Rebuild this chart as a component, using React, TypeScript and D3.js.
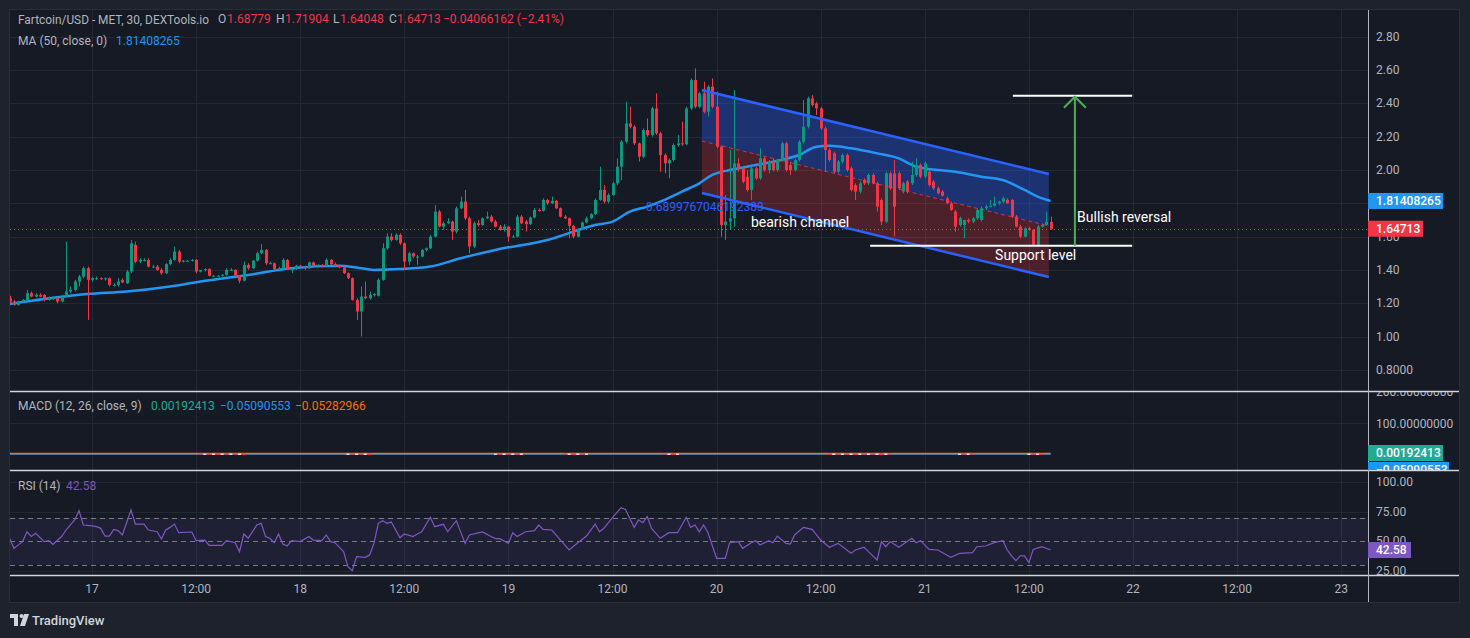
import React from "react";
import * as d3 from "d3";

// ---------- DATA ----------
const opens = [
  1.23,1.21,1.19,1.21,1.22,1.26,1.24,1.25,1.25,1.22,
  1.23,1.23,1.21,1.24,1.27,1.28,1.33,1.36,1.41,1.34,
  1.35,1.35,1.345,1.35,1.31,1.31,1.34,1.32,1.39,1.55,
  1.45,1.46,1.46,1.42,1.42,1.40,1.38,1.435,1.46,1.51,
  1.45,1.455,1.455,1.46,1.39,1.40,1.405,1.365,1.365,1.365,
  1.37,1.40,1.40,1.365,1.335,1.43,1.41,1.455,1.50,1.52,
  1.44,1.44,1.405,1.41,1.46,1.405,1.405,1.425,1.42,1.41,
  1.445,1.425,1.43,1.425,1.46,1.435,1.425,1.415,1.38,1.35,
  1.22,1.15,1.24,1.23,1.25,1.245,1.34,1.53,1.60,1.58,
  1.61,1.56,1.45,1.50,1.48,1.48,1.52,1.53,1.60,1.75,
  1.66,1.68,1.69,1.63,1.77,1.81,1.71,1.54,1.68,1.67,
  1.71,1.72,1.69,1.66,1.64,1.66,1.60,1.60,1.72,1.69,
  1.675,1.715,1.76,1.755,1.82,1.80,1.815,1.77,1.72,1.71,
  1.665,1.60,1.645,1.685,1.71,1.735,1.82,1.88,1.81,1.85,
  1.92,2.02,2.17,2.28,2.26,2.16,2.08,2.24,2.21,2.37,
  2.22,2.09,2.04,2.06,2.15,2.16,2.155,2.37,2.54,2.38,
  2.46,2.35,2.50,2.38,2.14,1.67,1.69,1.71,2.04,2.01,
  1.96,1.88,2.01,1.95,2.07,2.00,2.05,2.00,2.06,2.16,
  2.03,2.00,2.06,2.17,2.26,2.43,2.40,2.37,2.25,2.12,
  2.10,1.99,2.05,2.09,2.01,1.91,1.87,1.94,1.92,1.97,
  1.92,1.82,1.69,1.98,1.98,1.98,1.87,1.93,1.92,1.97,
  2.03,1.96,1.99,1.93,1.89,1.87,1.83,1.80,1.75,1.67,
  1.67,1.70,1.69,1.71,1.70,1.77,1.78,1.785,1.80,1.81,
  1.82,1.82,1.72,1.66,1.60,1.65,1.64,1.55,1.66,1.67,
  1.68779,
];
const highs = [
  1.245,1.22,1.215,1.225,1.28,1.27,1.26,1.26,1.255,1.24,
  1.24,1.235,1.25,1.57,1.30,1.34,1.37,1.42,1.42,1.36,
  1.36,1.355,1.355,1.355,1.32,1.35,1.35,1.40,1.58,1.57,
  1.47,1.47,1.47,1.43,1.43,1.41,1.44,1.47,1.54,1.52,
  1.46,1.46,1.465,1.465,1.40,1.41,1.41,1.37,1.37,1.375,
  1.41,1.41,1.405,1.37,1.45,1.44,1.46,1.51,1.555,1.525,
  1.45,1.445,1.42,1.47,1.465,1.41,1.43,1.43,1.425,1.45,
  1.45,1.435,1.435,1.47,1.465,1.445,1.43,1.42,1.385,1.355,
  1.23,1.30,1.33,1.27,1.26,1.35,1.56,1.62,1.62,1.62,
  1.62,1.565,1.51,1.505,1.49,1.525,1.535,1.61,1.79,1.76,
  1.69,1.71,1.695,1.78,1.84,1.88,1.72,1.69,1.70,1.715,
  1.75,1.73,1.70,1.67,1.675,1.665,1.61,1.73,1.73,1.70,
  1.72,1.77,1.77,1.83,1.825,1.84,1.82,1.775,1.73,1.715,
  1.67,1.65,1.69,1.72,1.74,1.83,2.02,1.91,1.86,1.93,
  2.07,2.18,2.41,2.38,2.27,2.165,2.25,2.31,2.38,2.46,
  2.23,2.10,2.07,2.16,2.21,2.29,2.38,2.55,2.61,2.47,
  2.53,2.51,2.55,2.47,2.15,1.85,2.12,2.48,2.07,2.02,
  2.00,2.02,2.02,2.13,2.08,2.06,2.07,2.065,2.17,2.17,
  2.05,2.07,2.18,2.42,2.44,2.45,2.41,2.38,2.26,2.13,
  2.11,2.06,2.10,2.10,2.02,1.92,1.93,1.95,1.98,1.98,
  1.93,1.83,1.99,1.99,2.06,1.99,1.93,1.94,2.05,2.07,
  2.04,2.05,2.00,1.94,1.90,1.88,1.84,1.81,1.76,1.72,
  1.70,1.71,1.715,1.77,1.78,1.79,1.82,1.84,1.815,1.84,
  1.83,1.825,1.73,1.67,1.655,1.66,1.645,1.67,1.68,1.75,
  1.71904,
];
const lows = [
  1.20,1.185,1.185,1.205,1.215,1.235,1.235,1.235,1.21,1.215,
  1.22,1.20,1.205,1.235,1.26,1.27,1.30,1.35,1.10,1.33,
  1.34,1.34,1.335,1.30,1.30,1.30,1.32,1.315,1.38,1.44,
  1.44,1.45,1.415,1.41,1.395,1.37,1.375,1.43,1.455,1.44,
  1.445,1.45,1.45,1.38,1.385,1.39,1.36,1.36,1.36,1.36,
  1.365,1.395,1.36,1.32,1.33,1.40,1.405,1.45,1.495,1.43,
  1.435,1.40,1.40,1.405,1.40,1.38,1.40,1.415,1.40,1.405,
  1.42,1.42,1.415,1.42,1.43,1.415,1.41,1.375,1.345,1.215,
  1.10,1.00,1.225,1.22,1.24,1.24,1.335,1.52,1.57,1.575,
  1.55,1.40,1.43,1.47,1.43,1.475,1.51,1.525,1.595,1.655,
  1.64,1.675,1.58,1.62,1.765,1.70,1.50,1.53,1.66,1.665,
  1.705,1.685,1.655,1.635,1.63,1.57,1.595,1.595,1.675,1.63,
  1.67,1.71,1.75,1.75,1.79,1.795,1.765,1.715,1.705,1.59,
  1.59,1.595,1.64,1.68,1.705,1.73,1.815,1.80,1.80,1.845,
  1.91,1.94,2.16,2.25,2.15,2.05,2.07,2.20,2.20,2.21,
  1.99,1.98,1.95,2.05,2.14,2.145,2.15,2.36,2.37,2.37,
  2.34,2.32,2.37,2.13,1.60,1.58,1.64,1.66,1.99,1.92,
  1.87,1.82,1.94,1.94,1.99,1.98,1.99,1.99,2.05,1.99,
  1.97,1.99,2.05,2.16,2.25,2.38,2.33,2.24,1.99,2.05,
  1.98,1.98,2.04,1.99,1.87,1.82,1.86,1.91,1.91,1.915,
  1.75,1.67,1.68,1.88,1.60,1.88,1.86,1.86,1.91,1.96,
  1.95,1.95,1.90,1.88,1.855,1.84,1.795,1.755,1.63,1.66,
  1.59,1.68,1.68,1.70,1.69,1.76,1.775,1.78,1.79,1.80,
  1.795,1.71,1.655,1.59,1.595,1.635,1.54,1.545,1.655,1.665,
  1.64048,
];
const closes = [
  1.21,1.19,1.21,1.22,1.26,1.24,1.25,1.24,1.22,1.23,
  1.23,1.21,1.24,1.27,1.28,1.33,1.36,1.41,1.34,1.35,
  1.35,1.345,1.35,1.31,1.31,1.33,1.325,1.39,1.56,1.45,
  1.46,1.46,1.42,1.42,1.40,1.38,1.435,1.46,1.51,1.45,
  1.455,1.455,1.46,1.39,1.40,1.405,1.365,1.365,1.365,1.37,
  1.40,1.40,1.365,1.335,1.43,1.41,1.455,1.50,1.52,1.44,
  1.44,1.405,1.41,1.46,1.405,1.405,1.425,1.42,1.41,1.445,
  1.425,1.43,1.425,1.46,1.435,1.425,1.415,1.38,1.35,1.22,
  1.15,1.24,1.23,1.25,1.255,1.34,1.53,1.60,1.58,1.61,
  1.56,1.45,1.50,1.48,1.48,1.52,1.53,1.60,1.75,1.66,
  1.68,1.69,1.63,1.77,1.81,1.71,1.54,1.68,1.67,1.71,
  1.72,1.69,1.66,1.64,1.66,1.60,1.60,1.72,1.68,1.675,
  1.715,1.76,1.755,1.82,1.80,1.815,1.77,1.72,1.71,1.665,
  1.60,1.645,1.685,1.71,1.735,1.82,1.88,1.81,1.85,1.92,
  2.02,2.17,2.28,2.26,2.16,2.08,2.24,2.21,2.37,2.22,
  2.09,2.04,2.06,2.15,2.16,2.155,2.37,2.54,2.38,2.46,
  2.35,2.50,2.38,2.14,1.67,1.69,1.71,2.04,2.01,1.93,
  1.88,2.01,1.95,2.07,2.00,2.05,2.00,2.06,2.16,2.00,
  2.00,2.06,2.17,2.26,2.43,2.39,2.37,2.25,2.12,2.06,
  1.99,2.05,2.09,2.00,1.88,1.87,1.92,1.92,1.97,1.92,
  1.78,1.69,1.98,1.89,1.78,1.89,1.92,1.87,1.97,2.03,
  1.96,2.04,1.91,1.89,1.86,1.845,1.80,1.76,1.66,1.71,
  1.70,1.69,1.71,1.76,1.77,1.78,1.785,1.80,1.81,1.83,
  1.80,1.72,1.66,1.60,1.65,1.64,1.55,1.66,1.67,1.68779,
  1.64713,
];

// MA(50) read at candle indices
const maIdx = [0,8,18,27,37,44,55,65,76,80,84,90,97,104,112,124,135,139,143,147,151,155,159,162,166,170,176,182,186,189,194,200,205,209,214,218,224,229,234,237,240];
const maVal = [1.195,1.225,1.255,1.27,1.30,1.33,1.37,1.41,1.425,1.415,1.40,1.405,1.42,1.47,1.52,1.58,1.67,1.69,1.75,1.78,1.82,1.87,1.92,1.97,2.00,2.02,2.05,2.09,2.14,2.145,2.13,2.10,2.07,2.02,2.00,1.99,1.96,1.94,1.88,1.84,1.81408265];

// RSI(14) vertices
const rsiIdx = [0,1,3,4,5,6,8,9,10,12,13,15,16,17,19,20,21,22,23,24,25,26,28,29,31,32,34,35,36,37,38,39,42,43,45,46,49,50,52,53,54,55,57,58,59,60,61,62,63,64,65,67,69,70,72,73,74,75,77,78,79,80,82,83,84,85,86,87,88,90,91,93,94,95,97,98,100,101,103,105,106,109,111,112,113,115,116,117,119,121,122,123,125,127,129,131,133,135,136,137,139,141,142,144,145,146,147,148,150,152,154,156,157,158,159,160,161,163,165,166,168,169,171,172,173,175,176,177,179,180,181,183,185,187,189,191,194,195,197,198,200,201,202,203,205,208,209,210,212,214,217,219,222,223,225,227,229,230,231,232,233,234,235,236,238,240];
const rsiVal = [52.5,44,49.7,58,54,56.7,49.7,50.5,47.4,54,59.5,68,75.8,63.7,62.9,62.3,60.9,54.4,54.4,60,59,55.3,76.4,64.5,64.5,59.5,58,51.9,59.5,61.7,64.5,57.2,57.8,50.5,51,46.6,46.6,50.5,48.8,41.2,56.1,52.5,63.7,65.1,54,52.5,48.8,56.1,47.7,46,50.5,49.7,54,51,50.5,55.3,49.7,48.8,41.2,28.6,25.2,37,36.4,38.4,48.2,65.1,67.4,65.1,66.2,53,56.1,54,56.1,58,70.2,62.3,64.3,58,67.4,48.2,55.3,57.8,54,52.2,52.2,48.2,57.2,54,58,59,63.7,60,59.5,51,42.6,48.8,54.4,64.5,58,60.9,69.9,78.4,76.9,61.7,68,65.7,70.8,60.9,52.5,57.2,57.2,70.2,61.7,63.7,58,63.7,57.2,35.6,35.6,48.8,49.7,44,48.8,50.5,46.8,50.5,48.8,54.4,48.2,47.7,55.3,61.7,60,51,44.9,48.2,39.8,42.6,44.9,41.2,34.2,49.7,45.4,49.7,44.9,52.5,48.8,50.5,43.1,42.6,36.4,39.8,40.4,45.4,46,48.8,50.5,42.6,37.6,33.6,37.6,37.6,32,43.1,45.4,42.58];

// MACD histogram (tiny values, visible spots)
const macdHistIdx = [44,45,46,47,48,49,50,51,52,53,54,78,79,80,81,82,83,112,113,114,115,116,117,118,128,129,130,131,132,133,151,152,153,154,189,190,191,192,193,194,195,196,197,198,199,200,201,202,203,219,220,221,222,235,236,237,238];
const macdHistVal = [-0.02,-0.03,-0.02,-0.03,-0.02,-0.03,-0.02,-0.03,-0.02,-0.03,-0.02,-0.03,-0.02,-0.03,-0.02,-0.03,-0.02,-0.03,-0.02,-0.03,-0.02,-0.03,-0.02,-0.03,-0.02,-0.03,-0.02,-0.03,-0.02,-0.03,-0.02,-0.03,-0.02,-0.03,-0.03,-0.02,-0.03,-0.02,-0.03,-0.02,-0.03,-0.02,-0.03,-0.02,-0.03,-0.02,-0.03,-0.02,-0.03,-0.02,-0.03,-0.02,-0.03,-0.02,-0.03,-0.02,-0.03];
const macdLineVal = -0.05090553;
const macdSignalVal = -0.05282966;

// bearish channel (candle index, price)
const chIdx = [159.6, 239.6];
const chUpper = [2.48, 1.976];
const chMid = [2.174, 1.664];
const chLower = [1.862, 1.357];

const supportIdx = [198.4, 258.8];
const supportPrice = 1.545;
const targetIdx = [231.3, 258.8];
const targetPrice = 2.446;
const arrowIdx = 245.6;

const priceTicks = [0.8, 1.0, 1.2, 1.4, 1.6, 1.8, 2.0, 2.2, 2.4, 2.6, 2.8];
const priceTickLabels = ["0.8000","1.00","1.20","1.40","1.60","1.80","2.00","2.20","2.40","2.60","2.80"];
const timeTickIdx = [19,43,67,91,115,139,163,187,211,235,259,283,307];
const timeTickLabels = ["17","12:00","18","12:00","19","12:00","20","12:00","21","12:00","22","12:00","23"];
const rsiTicks = [100, 75, 50, 25];
const rsiTickLabels = ["100.00","75.00","50.00","25.00"];
const macdTicks = [200, 100];
const macdTickLabels = ["200.00000000","100.00000000"];

const lastPrice = 1.64713;
const maLast = 1.81408265;
const rsiLast = 42.58;

// ---------- STYLE ----------
const BG = "#1e222d";
const PANEL = "#161a25";
const GRID = "#242834";
const TXT = "#b2b5be";
const UP = "#089981";
const DOWN = "#f23645";
const FONT = "Roboto, 'Noto Sans', sans-serif";

const L = 10, R = 1368, PR = 1459, T = 10;
const MAIN_B = 391, MACD_B = 470, RSI_B = 575, PB = 602;

export default function App() {
  const x = d3.scaleLinear().domain([0, 307]).range([9.6, 9.6 + 307 * 4.3375]);
  const y = d3.scaleLinear().domain([0.8, 2.8]).range([369.8, 36.8]);
  const yM = d3.scaleLinear().domain([0, 200]).range([454, 391]);
  const yR = d3.scaleLinear().domain([0, 100]).range([600.5, 482]);

  const maLine = d3.line<number>().x((_, k) => x(maIdx[k])).y((v) => y(v)).curve(d3.curveMonotoneX)(maVal) || "";
  const rsiLine = d3.line<number>().x((_, k) => x(rsiIdx[k])).y((v) => yR(v))(rsiVal) || "";

  const band = (a: number[], b: number[]) =>
    `M${x(chIdx[0])},${y(a[0])}L${x(chIdx[1])},${y(a[1])}L${x(chIdx[1])},${y(b[1])}L${x(chIdx[0])},${y(b[0])}Z`;

  const ax = R + 8;

  return (
    <svg width={1470} height={638} style={{ position: "absolute", left: 0, top: 0, display: "block" }} fontFamily={FONT}>
      <defs>
        <clipPath id="cMain"><rect x={L} y={T} width={R - L} height={MAIN_B - T} /></clipPath>
        <clipPath id="cMacd"><rect x={L} y={MAIN_B} width={R - L} height={MACD_B - MAIN_B} /></clipPath>
        <clipPath id="cRsi"><rect x={L} y={MACD_B} width={R - L} height={RSI_B - MACD_B} /></clipPath>
        <clipPath id="cMacdAx"><rect x={R} y={MAIN_B + 1} width={PR - R} height={MACD_B - MAIN_B - 1} /></clipPath>
      </defs>
      <rect width={1470} height={638} fill={BG} />
      <rect x={L - 0.5} y={T - 0.5} width={PR - L + 1} height={PB - T + 1} fill={PANEL} stroke="#2a2e39" />

      {/* vertical grid */}
      {timeTickIdx.map((t, k) => (
        <line key={"vg" + k} x1={Math.round(x(t)) + 0.5} x2={Math.round(x(t)) + 0.5} y1={T} y2={RSI_B} stroke={GRID} />
      ))}
      {/* main horizontal grid */}
      {priceTicks.map((p, k) => (
        <line key={"hg" + k} x1={L} x2={R} y1={Math.round(y(p)) + 0.5} y2={Math.round(y(p)) + 0.5} stroke={GRID} />
      ))}

      <g clipPath="url(#cMain)">
        {/* channel */}
        <path d={band(chUpper, chMid)} fill="rgba(41,98,255,0.35)" />
        <path d={band(chMid, chLower)} fill="rgba(242,54,69,0.25)" />
        {/* MA */}
        <path d={maLine} fill="none" stroke="#2196f3" strokeWidth={2.5} />
        {/* candles */}
        {closes.map((c, i) => {
          const o = opens[i];
          const col = c >= o ? UP : DOWN;
          const cx = Math.round(x(i)) + 0.5;
          const top = y(Math.max(o, c));
          const bot = y(Math.min(o, c));
          return (
            <g key={"c" + i}>
              <line x1={cx} x2={cx} y1={y(highs[i])} y2={y(lows[i])} stroke={col} strokeWidth={1} />
              <rect x={cx - 1.5} y={top} width={3} height={Math.max(1, bot - top)} fill={col} />
            </g>
          );
        })}
        {/* channel lines */}
        <line x1={x(chIdx[0])} y1={y(chUpper[0])} x2={x(chIdx[1])} y2={y(chUpper[1])} stroke="#2962ff" strokeWidth={2.5} />
        <line x1={x(chIdx[0])} y1={y(chLower[0])} x2={x(chIdx[1])} y2={y(chLower[1])} stroke="#2962ff" strokeWidth={2.5} />
        <line x1={x(chIdx[0])} y1={y(chMid[0])} x2={x(chIdx[1])} y2={y(chMid[1])} stroke="rgba(242,54,69,0.8)" strokeWidth={1} strokeDasharray="4 3" />
        {/* last price line */}
        <line x1={L} x2={R} y1={Math.round(y(lastPrice)) + 0.5} y2={Math.round(y(lastPrice)) + 0.5} stroke={DOWN} strokeDasharray="1 3" />
        {/* support & target */}
        <line x1={x(supportIdx[0])} x2={x(supportIdx[1])} y1={y(supportPrice)} y2={y(supportPrice)} stroke="#ffffff" strokeWidth={2} />
        <line x1={x(targetIdx[0])} x2={x(targetIdx[1])} y1={y(targetPrice)} y2={y(targetPrice)} stroke="#ffffff" strokeWidth={2} />
        <line x1={x(arrowIdx)} x2={x(arrowIdx)} y1={y(supportPrice)} y2={y(targetPrice) + 1} stroke="#4caf50" strokeWidth={2} />
        <path d={`M${x(arrowIdx) - 11},${y(targetPrice) + 12}L${x(arrowIdx)},${y(targetPrice) + 1}L${x(arrowIdx) + 11},${y(targetPrice) + 12}`} fill="none" stroke="#4caf50" strokeWidth={2} />
        {/* texts */}
        <text x={x(146.7)} y={y(1.778)} fill="#2962ff" fontSize={12} dominantBaseline="central">0.6899767046192383</text>
        <text x={x(170.9)} y={y(1.688)} fill="#ffffff" fontSize={14} dominantBaseline="central">bearish channel</text>
        <text x={x(227.2)} y={y(1.489)} fill="#ffffff" fontSize={14} dominantBaseline="central">Support level</text>
        <text x={x(246.1)} y={y(1.718)} fill="#ffffff" fontSize={14} dominantBaseline="central">Bullish reversal</text>
      </g>

      {/* legend main */}
      <g fontSize={12} dominantBaseline="central">
        <text x={18} y={19} fill={TXT} fontSize={12.5} textLength={191} lengthAdjust="spacingAndGlyphs">Fartcoin/USD - MET, 30, DEXTools.io</text>
        <text x={218} y={19} fill={TXT}>O</text>
        <text x={227} y={19} fill={DOWN}>1.68779</text>
        <text x={276} y={19} fill={TXT}>H</text>
        <text x={285} y={19} fill={DOWN}>1.71904</text>
        <text x={333} y={19} fill={TXT}>L</text>
        <text x={340} y={19} fill={DOWN}>1.64048</text>
        <text x={389} y={19} fill={TXT}>C</text>
        <text x={397} y={19} fill={DOWN}>1.64713</text>
        <text x={443} y={19} fill={DOWN}>−0.04066162 (−2.41%)</text>
        <text x={18} y={41} fill={TXT}>MA (50, close, 0)</text>
        <text x={116} y={41} fill="#2196f3">1.81408265</text>
      </g>

      {/* MACD pane */}
      <line x1={L} x2={R} y1={Math.round(yM(100)) + 0.5} y2={Math.round(yM(100)) + 0.5} stroke={GRID} />
      <g clipPath="url(#cMacd)">
        <line x1={L} x2={x(240)} y1={yM(macdLineVal)} y2={yM(macdLineVal)} stroke="#2196f3" strokeWidth={1.5} />
        <line x1={L} x2={x(240)} y1={yM(macdSignalVal) - 0.5} y2={yM(macdSignalVal) - 0.5} stroke="#ff6d00" strokeWidth={1.5} />
        {macdHistIdx.map((t, k) => (
          <rect key={"mh" + k} x={x(t) - 1.5} y={yM(0) - 0.5} width={3} height={Math.max(1.5, yM(macdHistVal[k]) - yM(0))}
            fill={k % 2 === 0 ? "#f23645" : "#ffcdd2"} />
        ))}
      </g>
      <g fontSize={12} dominantBaseline="central">
        <text x={18} y={406} fill={TXT}>MACD (12, 26, close, 9)</text>
        <text x={151} y={406} fill="#22ab94">0.00192413</text>
        <text x={220} y={406} fill="#2196f3">−0.05090553</text>
        <text x={295} y={406} fill="#ff6d00">−0.05282966</text>
      </g>

      {/* RSI pane */}
      <rect x={L} y={yR(70)} width={R - L} height={yR(30) - yR(70)} fill="rgba(126,87,194,0.1)" />
      {[100, 75, 25].map((v, k) => (
        <line key={"rg" + k} x1={L} x2={R} y1={Math.round(yR(v)) + 0.5} y2={Math.round(yR(v)) + 0.5} stroke={GRID} />
      ))}
      {[70, 50, 30].map((v, k) => (
        <line key={"rd" + k} x1={L} x2={R} y1={Math.round(yR(v)) + 0.5} y2={Math.round(yR(v)) + 0.5} stroke="#787b86" strokeDasharray="5 4" />
      ))}
      <g clipPath="url(#cRsi)">
        <path d={rsiLine} fill="none" stroke="#7e57c2" strokeWidth={1.2} />
      </g>
      <g fontSize={12} dominantBaseline="central">
        <text x={18} y={486} fill={TXT}>RSI (14)</text>
        <text x={66} y={486} fill="#7e57c2">42.58</text>
      </g>

      {/* separators */}
      <line x1={L} x2={PR} y1={MAIN_B + 0.5} y2={MAIN_B + 0.5} stroke="#d1d4dc" strokeWidth={1.5} />
      <line x1={L} x2={PR} y1={MACD_B + 0.5} y2={MACD_B + 0.5} stroke="#d1d4dc" strokeWidth={1.5} />
      <line x1={L} x2={PR} y1={RSI_B + 0.5} y2={RSI_B + 0.5} stroke="#d1d4dc" strokeWidth={1.5} />
      <line x1={R + 0.5} x2={R + 0.5} y1={T} y2={PB} stroke="#b2b5be" strokeWidth={1} />

      {/* price axis (labels fully hidden under the value boxes are skipped) */}
      <g fontSize={12} fill={TXT} dominantBaseline="central">
        {priceTicks.map((p, k) =>
          Math.abs(y(p) - y(maLast)) < 6 ? null : (
            <text key={"pt" + k} x={ax} y={y(p)}>{priceTickLabels[k]}</text>
          )
        )}
      </g>
      <rect x={R} y={y(maLast) - 8} width={75} height={16} fill="#2196f3" />
      <text x={ax} y={y(maLast)} fontSize={12} fill="#ffffff" fontWeight={500} dominantBaseline="central">1.81408265</text>
      <rect x={R} y={y(lastPrice) - 8} width={55} height={16} fill={DOWN} />
      <text x={ax} y={y(lastPrice)} fontSize={12} fill="#ffffff" fontWeight={500} dominantBaseline="central">1.64713</text>

      {/* MACD axis */}
      <g clipPath="url(#cMacdAx)">
        {macdTicks.map((v, k) => (
          <text key={"mt" + k} x={ax} y={yM(v) + 1} fontSize={12} fill={TXT} dominantBaseline="central">{macdTickLabels[k]}</text>
        ))}
        <rect x={R} y={445} width={75} height={16} fill="#22ab94" />
        <text x={ax} y={453} fontSize={12} fill="#ffffff" fontWeight={500} dominantBaseline="central">0.00192413</text>
        <rect x={R} y={462} width={81} height={16} fill="#2196f3" />
        <text x={ax} y={470} fontSize={12} fill="#ffffff" fontWeight={500} dominantBaseline="central">−0.05090553</text>
      </g>

      {/* RSI axis */}
      <g fontSize={12} fill={TXT} dominantBaseline="central">
        {rsiTicks.map((v, k) => (
          <text key={"rt" + k} x={ax} y={yR(v)}>{rsiTickLabels[k]}</text>
        ))}
      </g>
      <rect x={R} y={yR(rsiLast) - 8} width={43} height={16} fill="#7e57c2" />
      <text x={ax} y={yR(rsiLast)} fontSize={12} fill="#ffffff" fontWeight={500} dominantBaseline="central">42.58</text>

      {/* time axis */}
      <g fontSize={12} fill={TXT} textAnchor="middle" dominantBaseline="central">
        {timeTickIdx.map((t, k) => (
          <text key={"tt" + k} x={x(t)} y={589}>{timeTickLabels[k]}</text>
        ))}
      </g>

      {/* TradingView logo */}
      <g fill="#d1d4dc">
        <rect x={10} y={614} width={8} height={4} />
        <rect x={14} y={614} width={4} height={12} />
        <circle cx={21.5} cy={616} r={2} />
        <path d="M24,614L29,614L25,626L20,626Z" />
        <text x={32} y={620} fontSize={13} fontWeight={500} dominantBaseline="central">TradingView</text>
      </g>
    </svg>
  );
}
